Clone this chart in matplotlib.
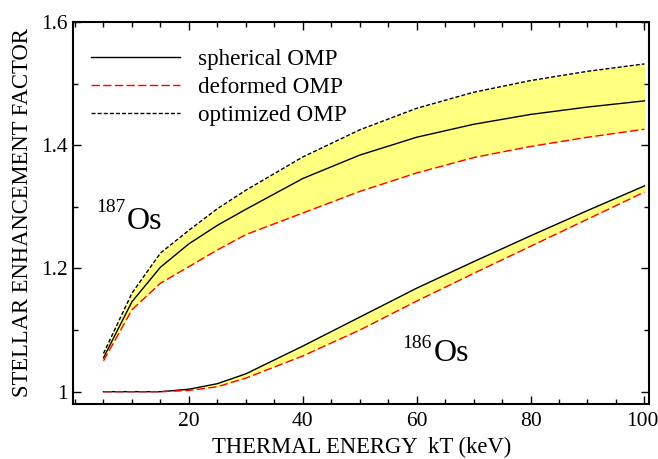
import numpy as np
import matplotlib.pyplot as plt
import matplotlib.transforms as mtransforms
from matplotlib.ticker import MultipleLocator, FixedLocator

plt.rcParams['font.family'] = ['Liberation Serif', 'DejaVu Serif']

# thermal energies kT (keV)
kT = [5, 10, 15, 20, 25, 30, 40, 50, 60, 70, 80, 90, 100]

# 187Os stellar enhancement factors
os187_sph = [1.055, 1.146, 1.202, 1.240, 1.270, 1.296, 1.346, 1.384, 1.413, 1.434, 1.450, 1.462, 1.472]
os187_def = [1.050, 1.133, 1.176, 1.203, 1.230, 1.255, 1.290, 1.325, 1.355, 1.380, 1.398, 1.413, 1.426]
os187_opt = [1.062, 1.160, 1.225, 1.262, 1.297, 1.327, 1.381, 1.425, 1.460, 1.486, 1.505, 1.520, 1.532]

# 186Os stellar enhancement factors
os186_sph = [1.000, 1.000, 1.000, 1.004, 1.013, 1.029, 1.074, 1.121, 1.168, 1.211, 1.253, 1.294, 1.334]
os186_def = [1.000, 1.000, 1.000, 1.002, 1.008, 1.022, 1.058, 1.100, 1.147, 1.192, 1.236, 1.280, 1.324]

yellow = '#ffff80'
red_dash = (0, (6, 2.4))
blk_dash = (0, (2.9, 1.5))

fig = plt.figure(figsize=(6.58, 4.59), dpi=100)
ax = fig.add_axes([0.1114, 0.1198, 0.8749, 0.8322])

# uncertainty bands
ax.fill_between(kT, os187_def, os187_opt, color=yellow, lw=0)
ax.fill_between(kT, os186_def, os186_sph, color=yellow, lw=0)

ax.plot(kT, os187_sph, color='black', lw=1.0, label='spherical OMP')
ax.plot(kT, os187_def, color='red', lw=1.0, ls=red_dash, label='deformed OMP')
ax.plot(kT, os187_opt, color='black', lw=1.0, ls=blk_dash, label='optimized OMP')
ax.plot(kT, os186_sph, color='black', lw=1.0)
ax.plot(kT, os186_def, color='red', lw=1.0, ls=red_dash)

ax.set_xlim(-0.3, 100.8)
ax.set_ylim(0.98, 1.6)

ax.xaxis.set_major_locator(FixedLocator([20, 40, 60, 80, 100]))
ax.xaxis.set_minor_locator(MultipleLocator(5))
ax.yaxis.set_major_locator(FixedLocator([1.0, 1.2, 1.4, 1.6]))
ax.yaxis.set_minor_locator(FixedLocator([1.1, 1.3, 1.5]))
ax.set_yticklabels(['1', '1.2', '1.4', '1.6'])

ax.tick_params(which='both', direction='in', top=True, right=True, width=1.0)
ax.tick_params(which='major', length=6, labelsize=15.5)
ax.tick_params(axis='x', which='major', pad=6)
ax.tick_params(axis='y', which='major', pad=4)
ax.tick_params(which='minor', length=3.3)
for s in ax.spines.values():
    s.set_linewidth(1.5)

# nudge the last x label so it stays inside the figure
lbl = ax.get_xticklabels()[-1]
lbl.set_transform(lbl.get_transform() + mtransforms.ScaledTranslation(-2 / 100, 0, fig.dpi_scale_trans))

ax.set_xlabel('THERMAL ENERGY  kT (keV)', fontsize=16.3, labelpad=4)
ax.set_ylabel('STELLAR ENHANCEMENT FACTOR', fontsize=16.3, labelpad=6)

ax.legend(loc='upper left', bbox_to_anchor=(0.031, 0.93), frameon=False,
          fontsize=16.7, handlelength=3.85, handletextpad=0.75,
          labelspacing=0.30, borderpad=0, borderaxespad=0)

# isotope labels
ax.text(8.96, 1.292, '187', fontsize=14, ha='right', va='baseline')
ax.text(9.08, 1.264, 'Os', fontsize=23, ha='left', va='baseline')
ax.text(62.7, 1.071, '186', fontsize=14, ha='right', va='baseline')
ax.text(63.0, 1.050, 'Os', fontsize=23, ha='left', va='baseline')

fig.savefig('out.png', dpi=100)
